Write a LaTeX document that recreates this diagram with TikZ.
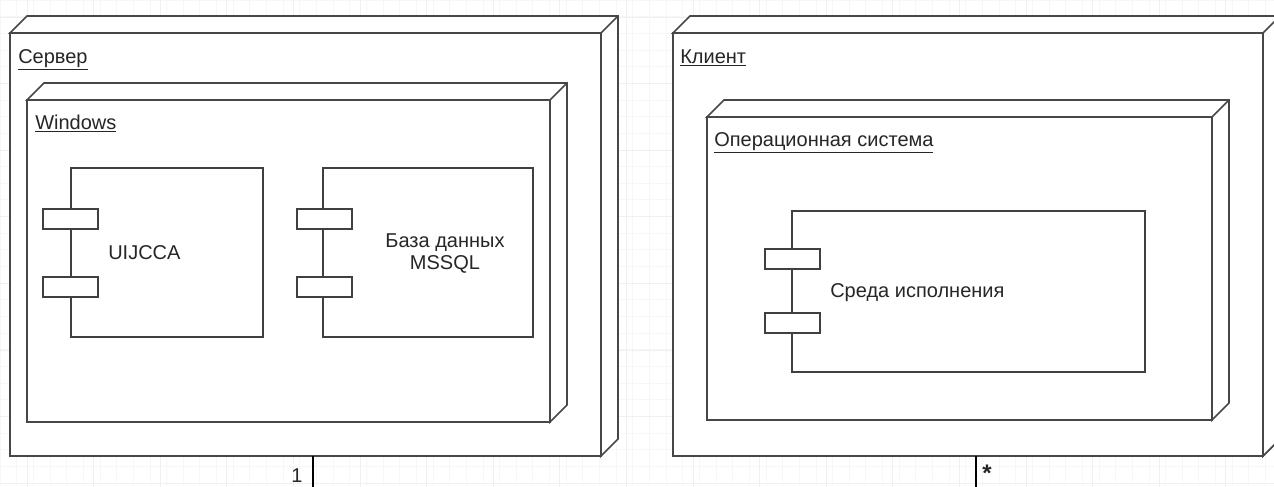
\documentclass[tikz,border=0pt]{standalone}
\usepackage{fontspec}
\setmainfont{Liberation Sans}
\usepackage{tikz}
\usetikzlibrary{calc}

\tikzset{
  sz/.style 2 args={minimum width=#1*0.75pt, minimum height=#2*0.75pt},
  nodeface/.style={draw=black!72, line width=1.3pt, fill=white, inner sep=0pt, outer sep=0pt, anchor=north west},
  nodeedge/.style={draw=black!72, line width=1.3pt, fill=white, line join=miter},
  compbody/.style={draw=black!75, line width=1.1pt, fill=white, inner sep=0pt, outer sep=0pt, anchor=north west},
  port/.style={compbody, sz={55}{20}},
  lbl/.style={font=\fontsize{15}{18}\selectfont, text=black!85, inner sep=0pt},
  link/.style={draw=black, line width=1.1pt},
  gridminor/.style={draw=black!3, line width=0.5pt},
  gridmajor/.style={draw=black!6, line width=0.6pt}
}

\begin{document}
\begin{tikzpicture}[x=0.75pt,y=0.75pt,yscale=-1,xscale=1]
  \useasboundingbox (0,0) rectangle (1274,486);
  \clip (0,0) rectangle (1274,486);

  % Background grid
  \draw[gridminor] (0,0) grid[step=16.65] (1274,486);
  \draw[gridmajor, shift={(27,17)}] (-27,-17) grid[step=66.6] (1260,480);

  % Shape: Node [Сервер]
  \node[nodeface, sz={591}{423}] (srv) at (10,33) {};
  \draw[nodeedge] (srv.north west) -- ++(17,-17) -- ([shift={(17,-17)}]srv.north east)
      -- ([shift={(17,-17)}]srv.south east) -- (srv.south east) -- (srv.north east) -- cycle;
  \draw[nodeedge] (srv.north east) -- ++(17,-17);
  \node[lbl, anchor=base west] (srvname) at (18,63) {\underline{Сервер}};

  % Shape: Node [Windows]
  \node[nodeface, sz={523}{322}] (win) at (27,100) {};
  \draw[nodeedge] (win.north west) -- ++(17,-17) -- ([shift={(17,-17)}]win.north east)
      -- ([shift={(17,-17)}]win.south east) -- (win.south east) -- (win.north east) -- cycle;
  \draw[nodeedge] (win.north east) -- ++(17,-17);
  \node[lbl, anchor=base west] (winname) at (35,129) {\underline{Windows}};

  % Shape: Component [UIJCCA]
  \node[compbody, sz={192}{169}] (app) at (71,168) {};
  \node[port] (appportA) at (43,209) {};
  \node[port] (appportB) at (43,277) {};
  \node[lbl, anchor=base west] (appname) at (108,259) {UIJCCA};

  % Shape: Component [MSSQL]
  \node[compbody, sz={210}{169}] (db) at (323,168) {};
  \node[port] (dbportA) at (297,209) {};
  \node[port] (dbportB) at (297,277) {};
  \node[lbl, align=center, font=\fontsize{15}{16.5}\selectfont] (dbname) at (445,254) {База данных\\MSSQL};

  % Shape: Node [Клиент]
  \node[nodeface, sz={590}{423}] (cli) at (673,33) {};
  \draw[nodeedge] (cli.north west) -- ++(17,-17) -- ([shift={(17,-17)}]cli.north east)
      -- ([shift={(17,-17)}]cli.south east) -- (cli.south east) -- (cli.north east) -- cycle;
  \draw[nodeedge] (cli.north east) -- ++(17,-17);
  \node[lbl, anchor=base west] (cliname) at (680,63) {\underline{Клиент}};

  % Shape: Node [ОС]
  \node[nodeface, sz={505}{303}] (os) at (707,117) {};
  \draw[nodeedge] (os.north west) -- ++(17,-17) -- ([shift={(17,-17)}]os.north east)
      -- ([shift={(17,-17)}]os.south east) -- (os.south east) -- (os.north east) -- cycle;
  \draw[nodeedge] (os.north east) -- ++(17,-17);
  \node[lbl, anchor=base west] (osname) at (714,146) {\underline{Операционная система}};

  % Shape: Component [Среда исполнения]
  \node[compbody, sz={353}{161}] (rt) at (792,211) {};
  \node[port] (rtportA) at (765,249) {};
  \node[port] (rtportB) at (765,313) {};
  \node[lbl, anchor=base west] (rtname) at (830,297) {Среда исполнения};

  % Straight Lines [связь]
  \coordinate (srvend) at (313,490);
  \coordinate (cliend) at (976,490);
  \draw[link] (srv.south -| srvend) -- (srvend);
  \draw[link] (cli.south -| cliend) -- (cliend);
  \node[lbl, anchor=base west] (srvmult) at (291,482) {1};
  \node[lbl, anchor=base west, font=\fontsize{18}{18}\selectfont\bfseries] (climult) at (982,481) {*};
\end{tikzpicture}
\end{document}
